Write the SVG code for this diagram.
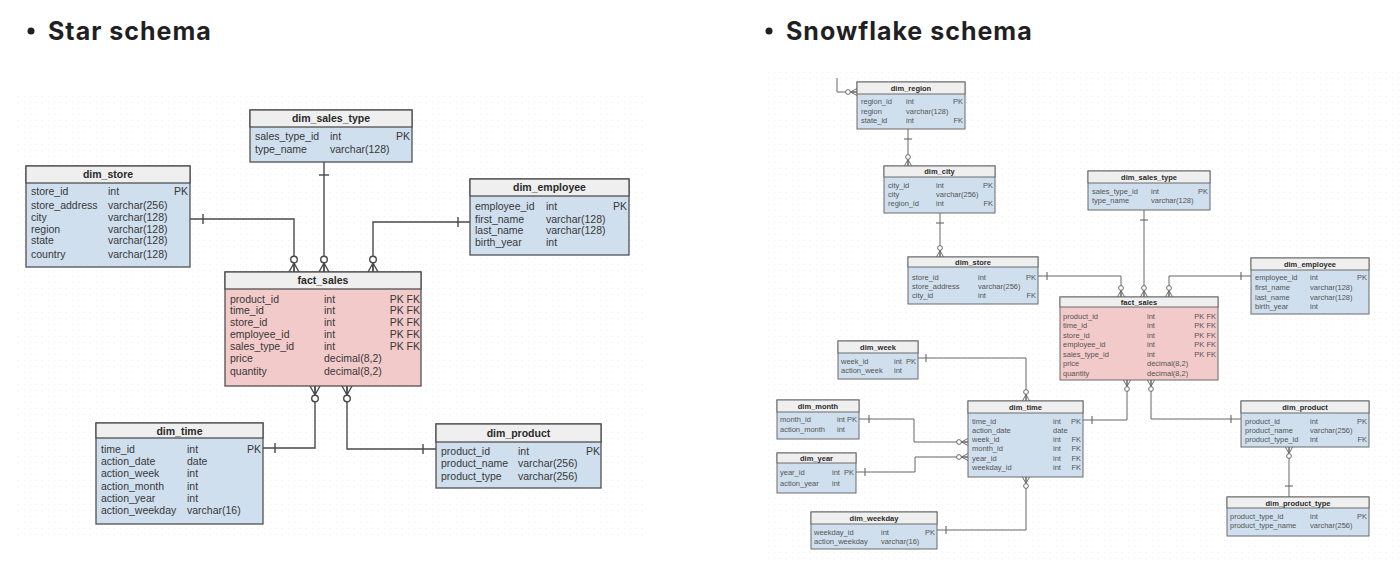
<svg xmlns="http://www.w3.org/2000/svg" xmlns:xlink="http://www.w3.org/1999/xlink" width="1400" height="572" viewBox="0 0 1400 572">
<style>
.title{font-family:Inter,"Liberation Sans",sans-serif;font-weight:700;font-size:25px;fill:#1f1f24;letter-spacing:1px}
.bg{fill:url(#dots)}
.hd{fill:#efefef}
.bl{fill:#cfdfee}
.pk{fill:#f2caca}
.L rect{stroke:#505050;stroke-width:1.3}
.S rect{stroke:#6a6a6a;stroke-width:1}
.L text{font-family:"Liberation Sans",Arial,sans-serif;font-size:10.5px;fill:#383838}
.S text{font-family:"Liberation Sans",Arial,sans-serif;font-size:7.5px;fill:#555}
text.h{font-weight:700;text-anchor:middle;fill:#2a2a2a}
text.k{text-anchor:end}
.cl path{stroke:#4a4a4a;stroke-width:1.4;fill:none}
.cl use{stroke:#4a4a4a;stroke-width:1.4;fill:none}
.cs path{stroke:#666;stroke-width:1;fill:none}
.cs use{stroke:#666;stroke-width:1.35;fill:none}
</style>
<defs>
<pattern id="dots" width="6" height="6" patternUnits="userSpaceOnUse"><rect width="1" height="1" fill="#efefef"/></pattern>
<g id="cf"><path d="M0,-9 L-5,0 M0,-9 L0,0 M0,-9 L5,0" fill="none"/><circle cx="0" cy="-12.5" r="3.3" fill="#fff"/></g>
<g id="tk"><line x1="-5" y1="0" x2="5" y2="0"/></g>
</defs>
<rect width="1400" height="572" fill="#fff"/>
<rect class="bg" x="18" y="95" width="630" height="440"/>
<rect class="bg" x="765" y="70" width="635" height="490"/>

<circle cx="31" cy="31" r="3.5" fill="#1f1f24"/>
<text class="title" x="48" y="40">Star schema</text>
<circle cx="769" cy="31" r="3.5" fill="#1f1f24"/>
<text class="title" x="786" y="40">Snowflake schema</text>

<!-- Star schema connectors -->
<g id="star-connectors" class="cl">
<path d="M190,219 H294 V272"/>
<path d="M324,162 V272"/>
<path d="M470,222 H373 V272"/>
<path d="M315,386 V448 H263"/>
<path d="M347,386 V449 H436"/>
<use xlink:href="#cf" transform="translate(294,272)"/>
<use xlink:href="#cf" transform="translate(324,272)"/>
<use xlink:href="#cf" transform="translate(373,272)"/>
<use xlink:href="#cf" transform="translate(315,386) rotate(180)"/>
<use xlink:href="#cf" transform="translate(347,386) rotate(180)"/>
<use xlink:href="#tk" transform="translate(203,219) rotate(90)"/>
<use xlink:href="#tk" transform="translate(324,175)"/>
<use xlink:href="#tk" transform="translate(458,222) rotate(90)"/>
<use xlink:href="#tk" transform="translate(275,448) rotate(90)"/>
<use xlink:href="#tk" transform="translate(423,449) rotate(90)"/>
</g>

<!-- Star schema nodes -->
<g id="star-dim_sales_type" class="L">
<rect class="bl" x="250" y="110" width="162" height="52"/><rect class="hd" x="250" y="110" width="162" height="17"/>
<text class="h" x="331" y="122">dim_sales_type</text>
<text x="255" y="140">sales_type_id</text><text x="330" y="140">int</text><text class="k" x="410" y="140">PK</text>
<text x="255" y="153">type_name</text><text x="330" y="153">varchar(128)</text>
</g>
<g id="star-dim_store" class="L">
<rect class="bl" x="26" y="166" width="164" height="101"/><rect class="hd" x="26" y="166" width="164" height="17"/>
<text class="h" x="108" y="178">dim_store</text>
<text x="31" y="195">store_id</text><text x="108" y="195">int</text><text class="k" x="188" y="195">PK</text>
<text x="31" y="209">store_address</text><text x="108" y="209">varchar(256)</text>
<text x="31" y="221">city</text><text x="108" y="221">varchar(128)</text>
<text x="31" y="232.5">region</text><text x="108" y="232.5">varchar(128)</text>
<text x="31" y="244">state</text><text x="108" y="244">varchar(128)</text>
<text x="31" y="257.5">country</text><text x="108" y="257.5">varchar(128)</text>
</g>
<g id="star-dim_employee" class="L">
<rect class="bl" x="470" y="179" width="159" height="76"/><rect class="hd" x="470" y="179" width="159" height="17"/>
<text class="h" x="549.5" y="191">dim_employee</text>
<text x="475" y="210">employee_id</text><text x="546" y="210">int</text><text class="k" x="627" y="210">PK</text>
<text x="475" y="222.5">first_name</text><text x="546" y="222.5">varchar(128)</text>
<text x="475" y="234">last_name</text><text x="546" y="234">varchar(128)</text>
<text x="475" y="245.5">birth_year</text><text x="546" y="245.5">int</text>
</g>
<g id="star-fact_sales" class="L">
<rect class="pk" x="225" y="272" width="196" height="114"/><rect class="hd" x="225" y="272" width="196" height="17"/>
<text class="h" x="323" y="284">fact_sales</text>
<text x="230" y="302.5">product_id</text><text x="324" y="302.5">int</text><text class="k" x="420" y="302.5">PK FK</text>
<text x="230" y="314">time_id</text><text x="324" y="314">int</text><text class="k" x="420" y="314">PK FK</text>
<text x="230" y="325.5">store_id</text><text x="324" y="325.5">int</text><text class="k" x="420" y="325.5">PK FK</text>
<text x="230" y="337.5">employee_id</text><text x="324" y="337.5">int</text><text class="k" x="420" y="337.5">PK FK</text>
<text x="230" y="350">sales_type_id</text><text x="324" y="350">int</text><text class="k" x="420" y="350">PK FK</text>
<text x="230" y="362">price</text><text x="324" y="362">decimal(8,2)</text>
<text x="230" y="374.5">quantity</text><text x="324" y="374.5">decimal(8,2)</text>
</g>
<g id="star-dim_time" class="L">
<rect class="bl" x="96" y="423" width="167" height="101"/><rect class="hd" x="96" y="423" width="167" height="15"/>
<text class="h" x="179.5" y="434.5">dim_time</text>
<text x="101" y="452.5">time_id</text><text x="187" y="452.5">int</text><text class="k" x="261" y="452.5">PK</text>
<text x="101" y="464.5">action_date</text><text x="187" y="464.5">date</text>
<text x="101" y="476.5">action_week</text><text x="187" y="476.5">int</text>
<text x="101" y="489.5">action_month</text><text x="187" y="489.5">int</text>
<text x="101" y="501.5">action_year</text><text x="187" y="501.5">int</text>
<text x="101" y="513.5">action_weekday</text><text x="187" y="513.5">varchar(16)</text>
</g>
<g id="star-dim_product" class="L">
<rect class="bl" x="436" y="424" width="165" height="64"/><rect class="hd" x="436" y="424" width="165" height="18"/>
<text class="h" x="518.5" y="437">dim_product</text>
<text x="441" y="454.5">product_id</text><text x="518" y="454.5">int</text><text class="k" x="600" y="454.5">PK</text>
<text x="441" y="466.5">product_name</text><text x="518" y="466.5">varchar(256)</text>
<text x="441" y="479.5">product_type</text><text x="518" y="479.5">varchar(256)</text>
</g>

<!-- Snowflake connectors -->
<g id="snow-connectors" class="cs">
<path d="M837,78 V92 H857"/>
<path d="M908,129 V166"/>
<path d="M940,213 V257"/>
<path d="M1038,276 H1121 V297"/>
<path d="M1144,210 V297"/>
<path d="M1251,276 H1169 V297"/>
<path d="M1127,380 V420 H1083"/>
<path d="M1151,380 V419 H1241"/>
<path d="M1289,447 V497"/>
<path d="M918,358 H1026 V401"/>
<path d="M859,419 H914 V442 H968"/>
<path d="M856,472 H915 V457 H968"/>
<path d="M937,530 H1026 V477"/>
<use xlink:href="#cf" transform="translate(857,92) rotate(-90) scale(0.72)"/>
<use xlink:href="#cf" transform="translate(908,166) scale(0.72)"/>
<use xlink:href="#cf" transform="translate(940,257) scale(0.72)"/>
<use xlink:href="#cf" transform="translate(1121,297) scale(0.72)"/>
<use xlink:href="#cf" transform="translate(1144,297) scale(0.72)"/>
<use xlink:href="#cf" transform="translate(1169,297) scale(0.72)"/>
<use xlink:href="#cf" transform="translate(1127,380) rotate(180) scale(0.72)"/>
<use xlink:href="#cf" transform="translate(1151,380) rotate(180) scale(0.72)"/>
<use xlink:href="#cf" transform="translate(1289,447) rotate(180) scale(0.72)"/>
<use xlink:href="#cf" transform="translate(1026,401) scale(0.72)"/>
<use xlink:href="#cf" transform="translate(968,442) rotate(-90) scale(0.72)"/>
<use xlink:href="#cf" transform="translate(968,457) rotate(-90) scale(0.72)"/>
<use xlink:href="#cf" transform="translate(1026,477) rotate(180) scale(0.72)"/>
<use xlink:href="#tk" transform="translate(908,139) scale(0.8)"/>
<use xlink:href="#tk" transform="translate(940,223) scale(0.8)"/>
<use xlink:href="#tk" transform="translate(1047,276) rotate(90) scale(0.8)"/>
<use xlink:href="#tk" transform="translate(1144,220) scale(0.8)"/>
<use xlink:href="#tk" transform="translate(1241,276) rotate(90) scale(0.8)"/>
<use xlink:href="#tk" transform="translate(1092,420) rotate(90) scale(0.8)"/>
<use xlink:href="#tk" transform="translate(1231,419) rotate(90) scale(0.8)"/>
<use xlink:href="#tk" transform="translate(1289,486) scale(0.8)"/>
<use xlink:href="#tk" transform="translate(926,358) rotate(90) scale(0.8)"/>
<use xlink:href="#tk" transform="translate(869,419) rotate(90) scale(0.8)"/>
<use xlink:href="#tk" transform="translate(865,472) rotate(90) scale(0.8)"/>
<use xlink:href="#tk" transform="translate(946,530) rotate(90) scale(0.8)"/>
</g>

<!-- Snowflake nodes -->
<g id="snow-dim_region" class="S">
<rect class="bl" x="857" y="82" width="108" height="47"/><rect class="hd" x="857" y="82" width="108" height="12"/>
<text class="h" x="911" y="90.7">dim_region</text>
<text x="861" y="103.7">region_id</text><text x="906" y="103.7">int</text><text class="k" x="963" y="103.7">PK</text>
<text x="861" y="113.7">region</text><text x="906" y="113.7">varchar(128)</text>
<text x="861" y="123.2">state_id</text><text x="906" y="123.2">int</text><text class="k" x="963" y="123.2">FK</text>
</g>
<g id="snow-dim_city" class="S">
<rect class="bl" x="884" y="166" width="111" height="47"/><rect class="hd" x="884" y="166" width="111" height="11"/>
<text class="h" x="939.5" y="174.2">dim_city</text>
<text x="888" y="187.7">city_id</text><text x="936" y="187.7">int</text><text class="k" x="993" y="187.7">PK</text>
<text x="888" y="196.7">city</text><text x="936" y="196.7">varchar(256)</text>
<text x="888" y="205.7">region_id</text><text x="936" y="205.7">int</text><text class="k" x="993" y="205.7">FK</text>
</g>
<g id="snow-dim_store" class="S">
<rect class="bl" x="908" y="257" width="130" height="47"/><rect class="hd" x="908" y="257" width="130" height="10"/>
<text class="h" x="973" y="264.7">dim_store</text>
<text x="912" y="279.7">store_id</text><text x="978" y="279.7">int</text><text class="k" x="1036" y="279.7">PK</text>
<text x="912" y="288.7">store_address</text><text x="978" y="288.7">varchar(256)</text>
<text x="912" y="297.7">city_id</text><text x="978" y="297.7">int</text><text class="k" x="1036" y="297.7">FK</text>
</g>
<g id="snow-dim_sales_type" class="S">
<rect class="bl" x="1088" y="171" width="122" height="39"/><rect class="hd" x="1088" y="171" width="122" height="12"/>
<text class="h" x="1149" y="179.7">dim_sales_type</text>
<text x="1092" y="193.7">sales_type_id</text><text x="1151" y="193.7">int</text><text class="k" x="1208" y="193.7">PK</text>
<text x="1092" y="202.7">type_name</text><text x="1151" y="202.7">varchar(128)</text>
</g>
<g id="snow-fact_sales" class="S">
<rect class="pk" x="1060" y="297" width="158" height="83"/><rect class="hd" x="1060" y="297" width="158" height="10"/>
<text class="h" x="1139" y="304.7">fact_sales</text>
<text x="1063" y="318.7">product_id</text><text x="1147" y="318.7">int</text><text class="k" x="1216" y="318.7">PK FK</text>
<text x="1063" y="328.2">time_id</text><text x="1147" y="328.2">int</text><text class="k" x="1216" y="328.2">PK FK</text>
<text x="1063" y="337.7">store_id</text><text x="1147" y="337.7">int</text><text class="k" x="1216" y="337.7">PK FK</text>
<text x="1063" y="347.2">employee_id</text><text x="1147" y="347.2">int</text><text class="k" x="1216" y="347.2">PK FK</text>
<text x="1063" y="356.7">sales_type_id</text><text x="1147" y="356.7">int</text><text class="k" x="1216" y="356.7">PK FK</text>
<text x="1063" y="366.2">price</text><text x="1147" y="366.2">decimal(8,2)</text>
<text x="1063" y="375.7">quantity</text><text x="1147" y="375.7">decimal(8,2)</text>
</g>
<g id="snow-dim_employee" class="S">
<rect class="bl" x="1251" y="258" width="118" height="56"/><rect class="hd" x="1251" y="258" width="118" height="12"/>
<text class="h" x="1310" y="266.7">dim_employee</text>
<text x="1255" y="279.7">employee_id</text><text x="1310" y="279.7">int</text><text class="k" x="1367" y="279.7">PK</text>
<text x="1255" y="289.7">first_name</text><text x="1310" y="289.7">varchar(128)</text>
<text x="1255" y="299.7">last_name</text><text x="1310" y="299.7">varchar(128)</text>
<text x="1255" y="308.7">birth_year</text><text x="1310" y="308.7">int</text>
</g>
<g id="snow-dim_product" class="S">
<rect class="bl" x="1241" y="401" width="128" height="46"/><rect class="hd" x="1241" y="401" width="128" height="12"/>
<text class="h" x="1305" y="409.7">dim_product</text>
<text x="1245" y="423.7">product_id</text><text x="1310" y="423.7">int</text><text class="k" x="1367" y="423.7">PK</text>
<text x="1245" y="432.7">product_name</text><text x="1310" y="432.7">varchar(256)</text>
<text x="1245" y="441.7">product_type_id</text><text x="1310" y="441.7">int</text><text class="k" x="1367" y="441.7">FK</text>
</g>
<g id="snow-dim_product_type" class="S">
<rect class="bl" x="1227" y="497" width="142" height="39"/><rect class="hd" x="1227" y="497" width="142" height="11"/>
<text class="h" x="1298" y="505.5">dim_product_type</text>
<text x="1230" y="518.7">product_type_id</text><text x="1310" y="518.7">int</text><text class="k" x="1367" y="518.7">PK</text>
<text x="1230" y="528.2">product_type_name</text><text x="1310" y="528.2">varchar(256)</text>
</g>
<g id="snow-dim_time" class="S">
<rect class="bl" x="968" y="401" width="115" height="76"/><rect class="hd" x="968" y="401" width="115" height="12"/>
<text class="h" x="1025.5" y="409.7">dim_time</text>
<text x="972" y="423.7">time_id</text><text x="1053" y="423.7">int</text><text class="k" x="1081" y="423.7">PK</text>
<text x="972" y="432.7">action_date</text><text x="1053" y="432.7">date</text>
<text x="972" y="441.7">week_id</text><text x="1053" y="441.7">int</text><text class="k" x="1081" y="441.7">FK</text>
<text x="972" y="451.2">month_id</text><text x="1053" y="451.2">int</text><text class="k" x="1081" y="451.2">FK</text>
<text x="972" y="460.7">year_id</text><text x="1053" y="460.7">int</text><text class="k" x="1081" y="460.7">FK</text>
<text x="972" y="469.7">weekday_id</text><text x="1053" y="469.7">int</text><text class="k" x="1081" y="469.7">FK</text>
</g>
<g id="snow-dim_week" class="S">
<rect class="bl" x="838" y="341" width="80" height="38"/><rect class="hd" x="838" y="341" width="80" height="12"/>
<text class="h" x="878" y="349.7">dim_week</text>
<text x="841" y="363.7">week_id</text><text x="894" y="363.7">int</text><text class="k" x="916" y="363.7">PK</text>
<text x="841" y="372.7">action_week</text><text x="894" y="372.7">int</text>
</g>
<g id="snow-dim_month" class="S">
<rect class="bl" x="777" y="400" width="82" height="39"/><rect class="hd" x="777" y="400" width="82" height="12"/>
<text class="h" x="818" y="408.7">dim_month</text>
<text x="780" y="421.7">month_id</text><text x="837" y="421.7">int</text><text class="k" x="857" y="421.7">PK</text>
<text x="780" y="431.7">action_month</text><text x="837" y="431.7">int</text>
</g>
<g id="snow-dim_year" class="S">
<rect class="bl" x="777" y="453" width="79" height="40"/><rect class="hd" x="777" y="453" width="79" height="10"/>
<text class="h" x="816.5" y="460.7">dim_year</text>
<text x="780" y="474.7">year_id</text><text x="832" y="474.7">int</text><text class="k" x="854" y="474.7">PK</text>
<text x="780" y="485.7">action_year</text><text x="832" y="485.7">int</text>
</g>
<g id="snow-dim_weekday" class="S">
<rect class="bl" x="811" y="512" width="126" height="37"/><rect class="hd" x="811" y="512" width="126" height="12"/>
<text class="h" x="874" y="520.7">dim_weekday</text>
<text x="814" y="534.7">weekday_id</text><text x="881" y="534.7">int</text><text class="k" x="935" y="534.7">PK</text>
<text x="814" y="543.7">action_weekday</text><text x="881" y="543.7">varchar(16)</text>
</g>
</svg>
